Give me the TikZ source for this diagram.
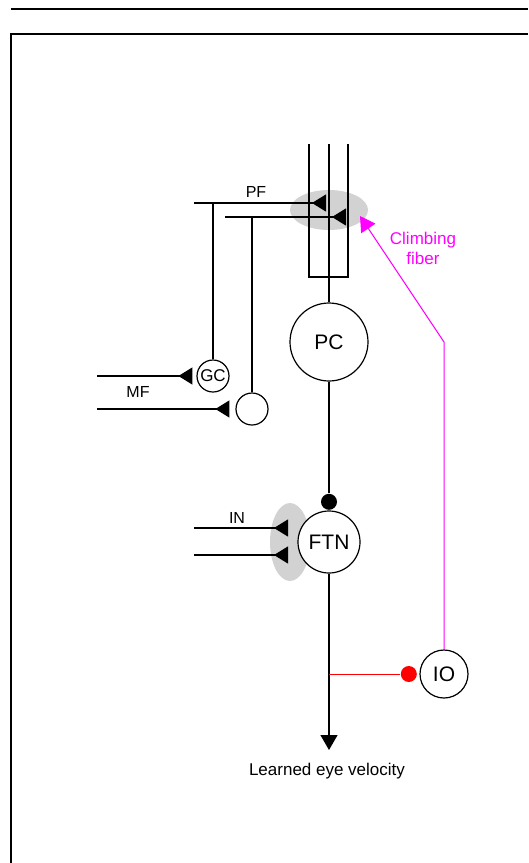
\documentclass[tikz,border=0pt]{standalone}
\usepackage{fontspec}
\setmainfont{Liberation Sans}
\usetikzlibrary{%
	calc,%
	arrows.meta,%
	positioning,%
	backgrounds,%
}
\tikzset{
	>=Triangle,
	nodes={align=center},
}
\definecolor{cmagenta}{RGB}{255, 0, 255}
\definecolor{cred}{RGB}{255, 0, 0}
\definecolor{cgray}{RGB}{210, 210, 210}
\newcommand{\labfont}{\fontsize{16}{19}\selectfont}
\newcommand{\txtfont}{\fontsize{17}{20}\selectfont}
\newcommand{\cellfont}{\fontsize{21}{24}\selectfont}

\begin{document}
\begin{tikzpicture}[x=1pt, y=-1pt, line width=1.2pt,%
		cell/.style={draw, circle, line width=1.2pt, fill=white, inner sep=0pt, font=\cellfont},%
		syn/.style={-{Triangle[reversed, length=14pt, width=17pt]}},%
		outarrow/.style={-{Triangle[length=15pt, width=17pt]}},%
		dot/.style={circle, inner sep=0pt, minimum size=16pt}]
	\useasboundingbox (0,0) rectangle (528,863);
	\draw[line width=1.5pt] (11,9) -- (528,9);
	\draw[line width=1.5pt] (11,863) -- (11,34) -- (528,34);

	% synapse patches
	\fill[cgray] (329,210) ellipse (39pt and 20pt);
	\fill[cgray] (290,542) ellipse (20pt and 39pt);

	\node[cell, minimum size=78pt] (pc) at (329,342) {PC};
	\node[cell, minimum size=32pt, font=\txtfont] (gc) at (213,376) {GC};
	\node[cell, minimum size=32pt] (gr) at (252,409) {};
	\node[cell, minimum size=62pt] (ftn) at (329,542) {FTN};
	\node[cell, minimum size=48pt] (io) at (444,674) {IO};
	\node[dot, fill=black] (inh) [above=0pt of ftn] {};
	\node[dot, fill=cred] (cfdot) [left=2pt of io] {};

	% dendrite
	\coordinate (dl) at (309,144);
	\coordinate (dm) at (329,144);
	\coordinate (dr) at (348,144);
	\draw (dl) -- (309,277) -- (348,277) -- (dr);
	\draw (dm) -- (pc);

	% parallel fibers
	\coordinate (pf1) at (194,203);
	\coordinate (pf2) at (225,217);
	\draw[syn] (pf1) -- (326,203);
	\draw[syn] (pf2) -- (346,217);
	\draw (gc) -- (gc |- pf1);
	\draw (gr) -- (gr |- pf2);
	\node[font=\labfont] (pflab) at (256,192) {PF};

	% mossy fibers
	\coordinate (mf1) at (97,376);
	\coordinate (mf2) at (97,409);
	\draw[syn, shorten >=4pt] (mf1) -- (gc.west);
	\draw[syn, shorten >=6pt] (mf2) -- (gr.west);
	\node[font=\labfont] (mflab) at (138,392) {MF};

	% other inputs
	\coordinate (in1) at (194,528);
	\coordinate (in2) at (194,555);
	\draw[syn] (in1) -- (288,528);
	\draw[syn] (in2) -- (288,555);
	\node[font=\labfont] (inlab) at (237,518) {IN};

	\draw (pc) -- (inh);
	\coordinate (eye) at (329,750);
	\draw[outarrow] (ftn) -- (eye);
	\node[font=\txtfont, anchor=base] (eyelab) at (327,775) {Learned eye velocity};

	% climbing fiber
	\coordinate (junc) at (329,674);
	\draw[cred, line width=1pt] (junc) -- (cfdot);
	\coordinate (cfbend) at (444,342);
	\coordinate (cfend) at (360,216);
	\draw[outarrow, cmagenta, line width=1pt] (io) -- (cfbend) -- (cfend);
	\node[font=\txtfont, text=cmagenta] (cflab) at (423,248) {Climbing\\fiber};
\end{tikzpicture}
\end{document}
